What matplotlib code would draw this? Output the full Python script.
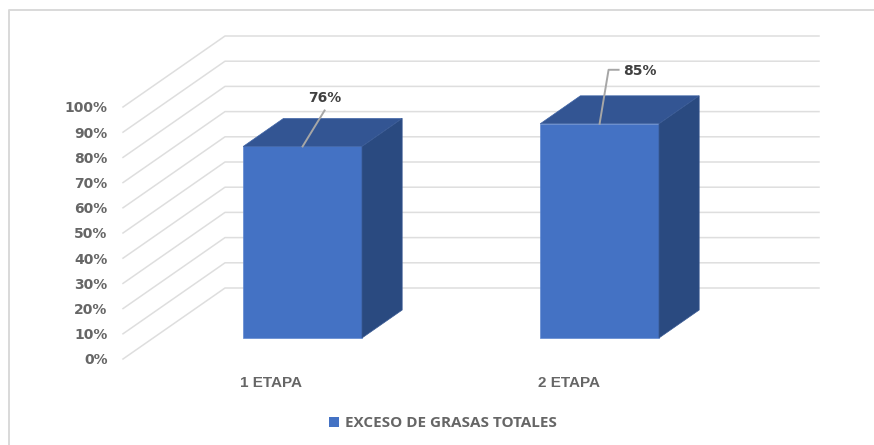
import matplotlib
matplotlib.use('Agg')
import matplotlib.pyplot as plt
from matplotlib.lines import Line2D
from matplotlib.patches import Patch
from matplotlib.transforms import Affine2D, ScaledTranslation

# datos del grafico
etapas = ['1 ETAPA', '2 ETAPA']
exceso_grasas = [76, 85]
ticks_y = [0, 10, 20, 30, 40, 50, 60, 70, 80, 90, 100]
serie = 'EXCESO DE GRASAS TOTALES'

W, H = 874, 445
GRIS_TICK = '#666666'
GRIS_GRID = '#dedede'

fig = plt.figure(figsize=(W / 100, H / 100), dpi=100, facecolor='white')

# plano frontal en pixeles: x 123-717, y 107-359
ax = fig.add_axes([123 / W, 1 - 359 / H, 594 / W, 252 / H])
ax.set_xlim(0, 2)
ax.set_ylim(0, 100)
ax.patch.set_visible(False)
for s in ax.spines.values():
    s.set_visible(False)

# vector de profundidad 3D en unidades de datos
DX = 102 / 297
DY = 71 / 2.52

# paredes (lineas de cuadricula)
for v in ticks_y:
    ax.plot([0, DX, 2 + DX], [v, v + DY, v + DY], color=GRIS_GRID, lw=1.1,
            clip_on=False, zorder=1)

# barras
ANCHO = 0.4
D1, D2 = 0.296, 0.69
centros = [0.5, 1.5]
AJUSTE = 0.003  # las barras van 1 px a la derecha
for c, v in zip(centros, exceso_grasas):
    x0 = c - ANCHO / 2 + D1 * DX + AJUSTE
    x1 = x0 + ANCHO
    y0 = D1 * DY
    ddx = (D2 - D1) * DX
    ddy = (D2 - D1) * DY
    ax.bar(x0, v, width=ANCHO, bottom=y0, align='edge', color='#4472C4',
           edgecolor='#5f88d0', lw=0.5, clip_on=False, zorder=3)
    ax.fill([x0, x1, x1 + ddx, x0 + ddx], [y0 + v, y0 + v, y0 + v + ddy, y0 + v + ddy],
            facecolor='#335593', edgecolor='#3f64a6', lw=0.5, clip_on=False, zorder=3)
    ax.fill([x1, x1 + ddx, x1 + ddx, x1], [y0, y0 + ddy, y0 + v + ddy, y0 + v],
            facecolor='#2A4A80', edgecolor='#3a5a94', lw=0.5, clip_on=False, zorder=3)

# etiquetas de datos con lineas guia (desplazamiento en pixeles)
guias = [[(0, 0), (22, 36)], [(0, 0), (9, 54), (19, 54)]]
textos = [(22, 48, 'center'), (24, 53, 'left')]
for c, v, g, t in zip(centros, exceso_grasas, guias, textos):
    xd = c + D1 * DX + AJUSTE
    yd = v + D1 * DY
    tr = Affine2D() + ScaledTranslation(xd, yd, ax.transData)
    ax.plot([p[0] for p in g], [p[1] for p in g], color='#a6a6a6', lw=1.4,
            transform=tr, clip_on=False, zorder=4)
    ax.text(t[0], t[1], f'{v}%', transform=tr, ha=t[2], va='center',
            fontsize=10, fontweight='bold', color='#404040', zorder=5)

# ejes
ax.set_yticks(ticks_y)
ax.set_yticklabels([f'{v}%' for v in ticks_y], fontsize=10, fontweight='bold', color=GRIS_TICK)
ax.set_xticks(centros)
ax.set_xticklabels(etapas, fontsize=11, fontweight='bold', color=GRIS_TICK, family='Liberation Sans')
ax.tick_params(axis='y', length=0, pad=11)
ax.tick_params(axis='x', length=0, pad=12)

# leyenda
fig.legend(handles=[Patch(facecolor='#4472C4', label=serie)], loc='center',
           bbox_to_anchor=(443 / W, 1 - 423 / H), frameon=False,
           handlelength=0.62, handleheight=0.62, handletextpad=0.4,
           prop={'family': 'Open Sans', 'weight': 'bold', 'size': 11}, labelcolor=GRIS_TICK)

# marco exterior: solo izquierda y arriba
fig.add_artist(Line2D([9 / W, 9 / W, 1], [0, 1 - 10 / H, 1 - 10 / H], color='#d9d9d9', lw=1.4,
                      transform=fig.transFigure))

plt.savefig('out.png', dpi=100)
